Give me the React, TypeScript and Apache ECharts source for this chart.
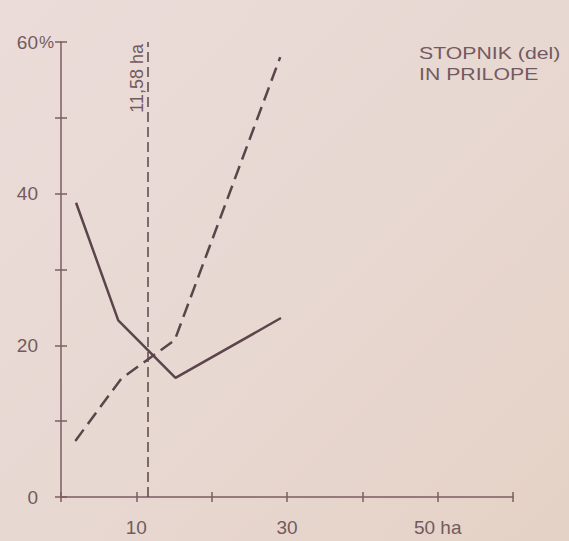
import React, { useEffect, useRef } from "react";
import * as echarts from "echarts";

// Data
const solidX = [2, 7.6, 15.2, 29.2];
const solidY = [38.8, 23.3, 15.7, 23.6];
const dashedX = [1.9, 8.0, 15.1, 29.1];
const dashedY = [7.4, 15.6, 20.7, 58.0];
const thresholdHa = 11.58;
const thresholdLabel = "11,58 ha";
const xLabelValues = [10, 30, 50];
const xLabelTexts = ["10", "30", "50 ha"];
const yLabelValues = [0, 20, 40, 60];
const legendLines = ["STOPNIK (del)", "IN PRILOPE"];

const INK = "#5b444a";
const AXIS = "#7c5c62";
const TEXT = "#735a60";
const FONT = "'Liberation Sans', Arial, sans-serif";

export default function App() {
  const ref = useRef<HTMLDivElement>(null);
  useEffect(() => {
    if (!ref.current) return;
    const chart = echarts.init(ref.current, null, { renderer: "svg" });
    const solid = solidX.map((x, i) => [x, solidY[i]]);
    const dashed = dashedX.map((x, i) => [x, dashedY[i]]);
    const baseX = {
      type: "value",
      min: 0,
      max: 60,
      interval: 10,
      splitLine: { show: false },
      gridIndex: 0,
    };
    const baseY = {
      type: "value",
      min: 0,
      max: 60,
      interval: 10,
      splitLine: { show: false },
      gridIndex: 0,
    };
    chart.setOption({
      animation: false,
      backgroundColor: "transparent",
      grid: { left: 61, right: 56, top: 42, bottom: 44, containLabel: false },
      xAxis: [
        {
          ...baseX,
          position: "bottom",
          axisLine: { show: true, lineStyle: { color: AXIS, width: 1.5 } },
          axisTick: { show: true, inside: false, length: 5, lineStyle: { color: AXIS, width: 1.5 } },
          axisLabel: {
            show: true,
            margin: 21,
            fontSize: 19,
            fontFamily: FONT,
            color: TEXT,
            formatter: (v: number) => {
              const i = xLabelValues.indexOf(v);
              return i >= 0 ? xLabelTexts[i] : "";
            },
          },
        },
        {
          ...baseX,
          position: "bottom",
          axisLine: { show: false },
          axisTick: { show: true, inside: true, length: 5, lineStyle: { color: AXIS, width: 1.5 } },
          axisLabel: { show: false },
        },
      ],
      yAxis: [
        {
          ...baseY,
          position: "left",
          axisLine: { show: true, lineStyle: { color: AXIS, width: 1.5 } },
          axisTick: { show: true, inside: false, length: 6, lineStyle: { color: AXIS, width: 1.5 } },
          axisLabel: {
            show: true,
            margin: 23,
            fontSize: 19,
            fontFamily: FONT,
            color: TEXT,
            formatter: (v: number) => (yLabelValues.indexOf(v) >= 0 ? String(v) : ""),
          },
        },
        {
          ...baseY,
          position: "left",
          axisLine: { show: false },
          axisTick: { show: true, inside: true, length: 6, lineStyle: { color: AXIS, width: 1.5 } },
          axisLabel: { show: false },
        },
      ],
      graphic: [
        {
          type: "text",
          left: 39,
          top: 34,
          style: { text: "%", fontSize: 17, fontFamily: FONT, fill: TEXT },
        },
        {
          type: "text",
          x: 419,
          y: 43,
          scaleX: 1.33,
          style: {
            text: legendLines.join("\n"),
            fontSize: 16,
            lineHeight: 21,
            fontFamily: FONT,
            fill: TEXT,
          },
        },
      ],
      series: [
        {
          type: "line",
          data: solid,
          symbol: "none",
          lineStyle: { color: INK, width: 2.5 },
        },
        {
          type: "line",
          data: dashed,
          symbol: "none",
          lineStyle: { color: INK, width: 2.5, type: [14, 7] },
          markLine: {
            silent: true,
            symbol: "none",
            lineStyle: { color: INK, width: 1.5, type: [10, 5] },
            label: {
              show: true,
              position: "insideEndTop",
              formatter: thresholdLabel,
              fontSize: 18,
              fontFamily: FONT,
              color: TEXT,
              distance: 2,
            },
            data: [[{ coord: [thresholdHa, 0] }, { coord: [thresholdHa, 60] }]],
          },
        },
      ],
    });
    return () => chart.dispose();
  }, []);
  return (
    <div
      ref={ref}
      style={{
        position: "fixed",
        left: 0,
        top: 0,
        width: 569,
        height: 541,
        background: "linear-gradient(135deg, #ecdcd9 0%, #e8d8d2 50%, #e5d2c6 100%)",
      }}
    />
  );
}
